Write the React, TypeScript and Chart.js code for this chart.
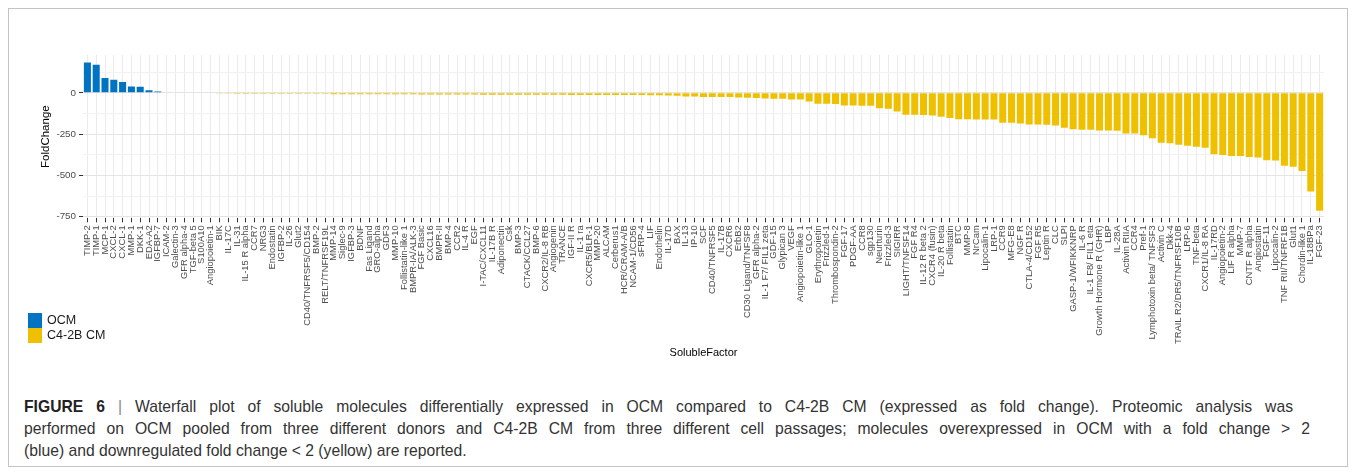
import React, { useEffect, useRef } from "react";
import { Chart, registerables } from "chart.js";

Chart.register(...registerables);

const categories = [
  "TIMP-2", "TIMP-1", "MCP-1", "CXCL-2", "CXCL-1", "MMP-1", "DKK-1", "EDA-A2", "IGFBP-7", "ICAM-2",
  "Galectin-3", "GFR alpha-4", "TGF-beta 5", "S100A10", "Angiopoietin-1", "BIK", "IL-17C", "IL-31", "IL-15 R alpha", "CCR7",
  "NRG3", "Endostatin", "IGFBP-2", "IL-26", "Glut2", "CD40/TNFRSF5/CD154", "BMP-2", "RELT/TNFRSF19L", "MMP-14", "Siglec-9",
  "IGFBP-3", "BDNF", "Fas Ligand", "GRO-alpha", "GDF3", "MMP-10", "Follistatin-like 1", "BMPR-IA/ALK-3", "FGF Basic", "CXCL16",
  "BMPR-II", "BMP-4", "CCR2", "IL-4 R", "EGF", "I-TAC/CXCL11", "IL-17B R", "Adiponectin", "Csk", "BMP-3",
  "CTACK/CCL27", "BMP-6", "CXCR2/IL-8 RB", "Angiogenin", "TRANCE", "IGF-II R", "IL-1 ra", "CXCR5/BLR-1", "MMP-20", "ALCAM",
  "Cerberus1", "HCR/CRAM-A/B", "NCAM-1/CD56", "sFRP-4", "LIF", "Endothelin", "IL-17D", "BAX", "IL-13", "IP-10",
  "SCF", "CD40/TNFRSF5", "IL-17B", "CXCR6", "ErbB2", "CD30 Ligand/TNFSF8", "GFR alpha-2", "IL-1 F7/ FIL1 zeta", "GDF-15", "Glypican 3",
  "VEGF", "Angiopoietin-like 1", "GLO-1", "Erythropoietin", "Frizzled-1", "Thrombospondin-2", "FGF-17", "PDGF-AA", "CCR8", "sgp130",
  "Neurturin", "Frizzled-3", "SIGIRR", "LIGHT/TNFSF14", "FGF R4", "IL-12 R beta 2", "CXCR4 (fusin)", "IL-20 R beta", "Follistatin", "BTC",
  "MMP-8", "NrCam", "Lipocalin-1", "LRP-1", "CCR9", "MFG-E8", "NGF R", "CTLA-4/CD152", "FGF R5", "Leptin R",
  "CLC", "SLPI", "GASP-1/WFIKKNRP", "IL-6 R", "IL-1 F8/ FIL1 eta", "Growth Hormone R (GHR)", "LBP", "IL-28A", "Activin RIIA", "CCR4",
  "Pref-1", "Lymphotoxin beta/ TNFSF3", "Activin C", "Dkk-4", "TRAIL R2/DR5/TNFRSF10B", "LRP-6", "TNF-beta", "CXCR1/IL-8 RA", "IL-17RD", "Angiopoietin-2",
  "LIF R alpha", "MMP-7", "CNTF R alpha", "Angiostatin", "FGF-11", "Lipocalin-2", "TNF RII/TNFRF1B", "Glut1", "Chordin-like 1", "IL-18BPa",
  "FGF-23",
];

const foldChange = [
  184, 170, 89, 79, 65, 38, 37, 16, 8, -2,
  -2, -3, -3, -3, -3, -4, -4, -5, -5, -5,
  -5, -5, -5, -6, -6, -6, -6, -6, -8, -8,
  -8, -8, -9, -9, -9, -9, -9, -9, -10, -10,
  -10, -10, -10, -10, -10, -11, -11, -11, -11, -12,
  -12, -12, -12, -12, -12, -13, -13, -13, -13, -13,
  -14, -14, -14, -14, -15, -15, -16, -18, -22, -22,
  -25, -26, -26, -26, -28, -30, -32, -34, -36, -36,
  -40, -40, -52, -67, -67, -68, -77, -77, -79, -79,
  -93, -97, -113, -133, -133, -134, -137, -145, -153, -160,
  -160, -161, -162, -162, -182, -182, -186, -192, -192, -193,
  -198, -212, -220, -224, -224, -228, -228, -230, -246, -246,
  -257, -275, -303, -305, -315, -321, -327, -333, -372, -376,
  -382, -382, -388, -392, -408, -410, -442, -448, -473, -598,
  -715,
];

const yTicks = [-750, -500, -250, 0];
const yMinorTicks = [-625, -375, -125, 125];
const yLimits = [-760, 229];
const seriesNames = ["OCM", "C4-2B CM"];
const seriesColors = ["#0073C2", "#EFC000"];
const xTitle = "SolubleFactor";
const yTitle = "FoldChange";

const FONT = "'Liberation Sans', Arial, Helvetica, sans-serif";

export default function App() {
  const ref = useRef<HTMLCanvasElement>(null);

  useEffect(() => {
    if (!ref.current) return;
    const ocm = foldChange.map((v) => (v > 0 ? v : null));
    const c42b = foldChange.map((v) => (v <= 0 ? v : null));
    const isMajor = (v: number) => yTicks.includes(v);

    const chart = new Chart(ref.current, {
      type: "bar",
      data: {
        labels: categories,
        datasets: [
          {
            label: seriesNames[0],
            data: ocm as any,
            backgroundColor: seriesColors[0],
            grouped: false,
            barPercentage: 0.8,
            categoryPercentage: 1,
          } as any,
          {
            label: seriesNames[1],
            data: c42b as any,
            backgroundColor: seriesColors[1],
            grouped: false,
            barPercentage: 0.8,
            categoryPercentage: 1,
          } as any,
        ],
      },
      options: {
        responsive: false,
        animation: false,
        devicePixelRatio: 1,
        layout: { padding: { left: 0, right: 23, top: 46, bottom: 21.4 } },
        plugins: {
          legend: { display: false },
          tooltip: { enabled: false },
        },
        scales: {
          x: {
            type: "category",
            offset: true,
            grid: {
              offset: false,
              color: "#ebebeb",
              lineWidth: 1,
              tickColor: "#333333",
              tickLength: 4,
            },
            border: { display: false },
            ticks: {
              autoSkip: false,
              maxRotation: 90,
              minRotation: 90,
              padding: 3,
              color: "#4d4d4d",
              font: { family: FONT, size: 9.4 },
            },
            title: {
              display: true,
              text: xTitle,
              color: "#000000",
              font: { family: FONT, size: 11 },
              padding: { top: 0, bottom: 0 },
            },
            afterFit: (s: any) => {
              s.height = 141.3;
            },
          },
          y: {
            type: "linear",
            min: yLimits[0],
            max: yLimits[1],
            bounds: "data",
            afterBuildTicks: (s: any) => {
              s.ticks = [...yTicks, ...yMinorTicks]
                .sort((a, b) => a - b)
                .map((v) => ({ value: v }));
            },
            grid: {
              color: (c: any) => (c.tick && isMajor(c.tick.value) ? "#e4e4e4" : "#f2f2f2"),
              tickColor: (c: any) => (c.tick && isMajor(c.tick.value) ? "#333333" : "rgba(0,0,0,0)"),
              tickLength: 4,
              lineWidth: 1,
            },
            border: { display: false },
            ticks: {
              padding: 3,
              color: "#4d4d4d",
              font: { family: FONT, size: 9.8 },
              callback: (v: any) => (isMajor(Number(v)) ? String(v) : ""),
            },
            title: {
              display: true,
              text: yTitle,
              color: "#000000",
              font: { family: FONT, size: 11.5 },
              padding: { top: 30, bottom: 0 },
            },
            afterFit: (s: any) => {
              s.width = 74;
            },
          },
        },
      },
    });
    return () => chart.destroy();
  }, []);

  const justified = (w: number): React.CSSProperties => ({
    width: w,
    textAlign: "justify",
    textAlignLast: "justify" as any,
    whiteSpace: "normal",
  });

  return (
    <div
      style={{
        position: "relative",
        width: 1340,
        height: 459,
        boxSizing: "border-box",
        border: "1px solid #c4c4c4",
        fontFamily: FONT,
        background: "#ffffff",
      }}
    >
      <canvas
        ref={ref}
        width={1338}
        height={372}
        style={{ position: "absolute", left: 0, top: 0, display: "block" }}
      />
      <div style={{ position: "absolute", left: 19, top: 304 }}>
        {seriesNames.map((n, i) => (
          <div key={n} style={{ display: "flex", alignItems: "center", height: 15 }}>
            <span
              style={{
                display: "inline-block",
                width: 14,
                height: 15,
                background: seriesColors[i],
                marginRight: 5,
              }}
            />
            <span style={{ fontSize: 12.5, color: "#1a1a1a", lineHeight: "15px" }}>{n}</span>
          </div>
        ))}
      </div>
      <div
        style={{
          position: "absolute",
          left: 15,
          top: 387,
          fontSize: 15.7,
          lineHeight: "22px",
          color: "#333333",
        }}
      >
        <div style={justified(1269)}>
          <b style={{ color: "#222" }}>FIGURE 6</b> <span style={{ color: "#888" }}>|</span> Waterfall plot of soluble molecules differentially expressed in OCM compared to C4-2B CM (expressed as fold change). Proteomic analysis was
        </div>
        <div style={justified(1286)}>
          performed on OCM pooled from three different donors and C4-2B CM from three different cell passages; molecules overexpressed in OCM with a fold change &gt; 2
        </div>
        <div style={{ whiteSpace: "nowrap" }}>(blue) and downregulated fold change &lt; 2 (yellow) are reported.</div>
      </div>
    </div>
  );
}
